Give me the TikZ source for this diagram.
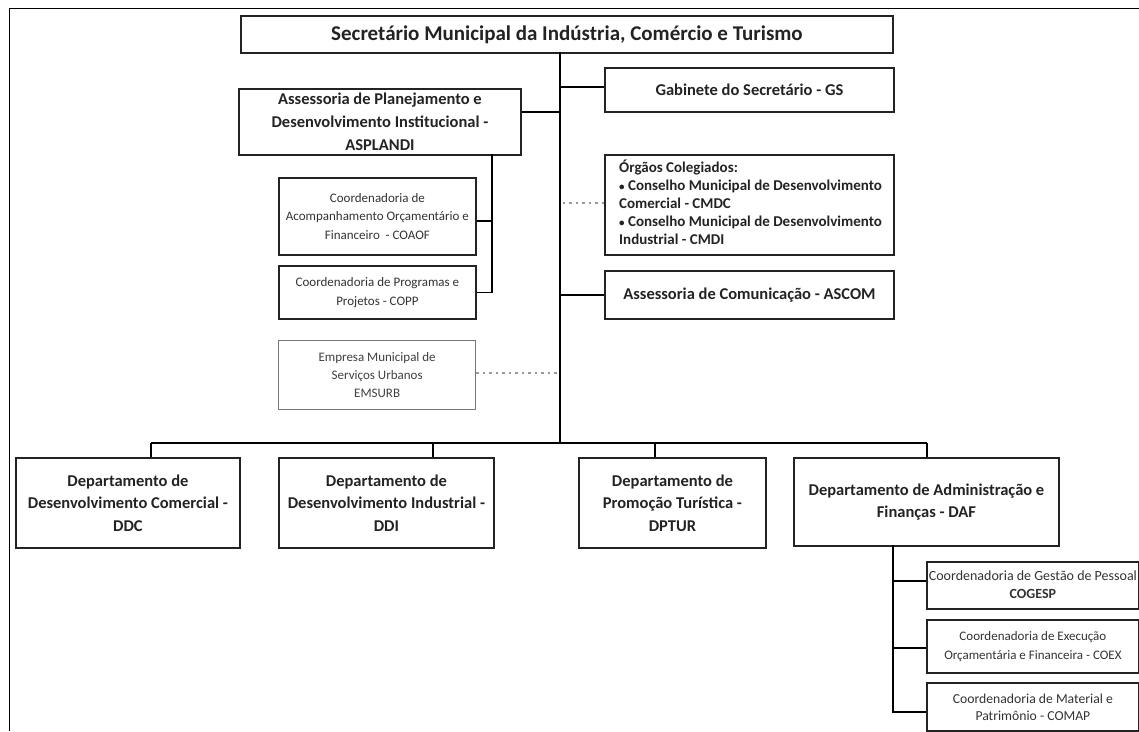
\documentclass[tikz,border=0pt]{standalone}
\usepackage{fontspec}
\setmainfont{Carlito}
\usetikzlibrary{positioning}
\definecolor{ink}{HTML}{232323}
\definecolor{soft}{HTML}{333333}
\definecolor{faint}{HTML}{404040}
\definecolor{rule}{HTML}{777777}
\tikzset{
  unitbox/.style={draw=ink, line width=1.9pt, rectangle, inner sep=0pt, anchor=north west, align=center, text=ink},
  bigbox/.style={unitbox, font=\bfseries\fontsize{16.5}{22.5}\selectfont},
  smallbox/.style={unitbox, line width=1.8pt, text=soft, font=\fontsize{13}{18.5}\selectfont},
  ghostbox/.style={unitbox, draw=rule, line width=1.3pt, text=faint, font=\fontsize{13}{18}\selectfont},
  link/.style={draw=black, line width=1.4pt},
  dotlink/.style={draw=gray!80, line width=1.4pt, dash pattern=on 2.5pt off 4pt},
  frame/.style={draw=black, line width=0.9pt}
}
\begin{document}
\begin{tikzpicture}[x=1pt, y=-1pt]
\useasboundingbox (0,0) rectangle (1139,731);
% page frame
\draw[frame] (1139,8) -- (9.5,8) -- (9.5,731);

% head
\node[unitbox, minimum width=652pt, minimum height=37pt, font=\bfseries\fontsize{21}{24}\selectfont] (sec) at (240,15) {Secretário Municipal da Indústria, Comércio e Turismo};

% staff units to the right of the trunk
\node[bigbox, minimum width=289pt, minimum height=44pt] (gab) at (604,67) {Gabinete do Secretário - GS};
\node[unitbox, minimum width=289pt, minimum height=100pt] (org) at (604,154) {};
\node[anchor=north west, inner sep=0pt, align=left, text=ink, font=\bfseries\fontsize{15}{17.8}\selectfont] (orgtext) at (619,160) {Órgãos Colegiados:\\{\fontsize{11}{11}\selectfont•} Conselho Municipal de Desenvolvimento\\Comercial - CMDC\\{\fontsize{11}{11}\selectfont•} Conselho Municipal de Desenvolvimento\\Industrial - CMDI};
\node[bigbox, minimum width=289pt, minimum height=48pt] (ascom) at (604,270) {Assessoria de Comunicação - ASCOM};

% planning unit and its coordinations
\node[bigbox, minimum width=282pt, minimum height=66pt, font=\bfseries\fontsize{16.5}{23}\selectfont] (asp) at (238,88) {Assessoria de Planejamento e\\Desenvolvimento Institucional -\\ASPLANDI};
\node[smallbox, minimum width=197pt, minimum height=77pt] (coaof) at (278,177) {Coordenadoria de\\Acompanhamento Orçamentário e\\Financeiro\ \ - COAOF};
\node[smallbox, minimum width=197pt, minimum height=53pt] (copp) at (278,265) {Coordenadoria de Programas e\\Projetos - COPP};
\node[ghostbox, minimum width=197pt, minimum height=69pt] (emsurb) at (278,340) {Empresa Municipal de\\Serviços Urbanos\\EMSURB};

% departments
\node[bigbox, minimum width=224pt, minimum height=90pt] (ddc) at (15,457) {Departamento de\\Desenvolvimento Comercial -\\DDC};
\node[bigbox, minimum width=215pt, minimum height=90pt] (ddi) at (278,457) {Departamento de\\Desenvolvimento Industrial -\\DDI};
\node[bigbox, minimum width=187pt, minimum height=90pt] (dptur) at (578,457) {Departamento de\\Promoção Turística -\\DPTUR};
\node[bigbox, minimum width=265pt, minimum height=88pt] (daf) at (793,457) {Departamento de Administração e\\Finanças - DAF};

% coordinations under DAF
\node[smallbox, minimum width=212pt, minimum height=47pt, font=\fontsize{14}{19}\selectfont] (cogesp) at (926,561) {Coordenadoria de Gestão de Pessoal\\[-1pt]\textbf{COGESP}\vphantom{g}};
\node[smallbox, minimum width=212pt, minimum height=53pt, font=\fontsize{13}{19}\selectfont] (coex) at (926,619) {Coordenadoria de Execução\\Orçamentária e Financeira - COEX};
\node[smallbox, minimum width=212pt, minimum height=48pt, font=\fontsize{13.7}{17}\selectfont] (comap) at (926,682) {Coordenadoria de Material e\\Patrimônio - COMAP};

% trunk, bus and branch points
\coordinate (trunktop) at (560,52);
\coordinate (trunkbot) at (560,443);
\coordinate (busl) at (151,443);
\coordinate (bus2) at (433,443);
\coordinate (bus3) at (655,443);
\coordinate (busr) at (927,443);
\coordinate (aspdrop) at (492,154);
\coordinate (dafdrop) at (893,545);
\coordinate (gabin) at ([yshift=-20pt]gab.north west);
\coordinate (aspout) at ([yshift=-24pt]asp.north east);
\coordinate (orgin) at ([yshift=-49pt]org.north west);
\coordinate (emsout) at ([yshift=-33pt]emsurb.north east);
\coordinate (coaofout) at ([yshift=-44pt]coaof.north east);
\coordinate (cogespin) at ([yshift=-20pt]cogesp.north west);
\coordinate (coexin) at ([yshift=-29pt]coex.north west);
\coordinate (comapin) at ([yshift=-30pt]comap.north west);

\draw[link] (trunktop) -- (trunkbot);
\draw[link] (busl) -- (busr);
\draw[link] (busl) -- (busl |- ddc.north);
\draw[link] (bus2) -- (bus2 |- ddi.north);
\draw[link] (bus3) -- (bus3 |- dptur.north);
\draw[link] (busr) -- (busr |- daf.north);

\draw[link] (gabin) -- (gabin -| trunktop);
\draw[link] (aspout) -- (aspout -| trunktop);
\draw[link] (ascom.west) -- (ascom.west -| trunktop);
\draw[dotlink] (orgin) -- (orgin -| trunktop);
\draw[dotlink] (emsout) -- (emsout -| trunktop);

% ASPLANDI branch
\draw[link] (aspdrop) -- (aspdrop |- copp.east) -- (copp.east);
\draw[link] (coaofout) -- (coaofout -| aspdrop);

% DAF branch
\draw[link] (dafdrop) -- (dafdrop |- comapin) -- (comapin);
\draw[link] (cogespin) -- (cogespin -| dafdrop);
\draw[link] (coexin) -- (coexin -| dafdrop);
\end{tikzpicture}
\end{document}
